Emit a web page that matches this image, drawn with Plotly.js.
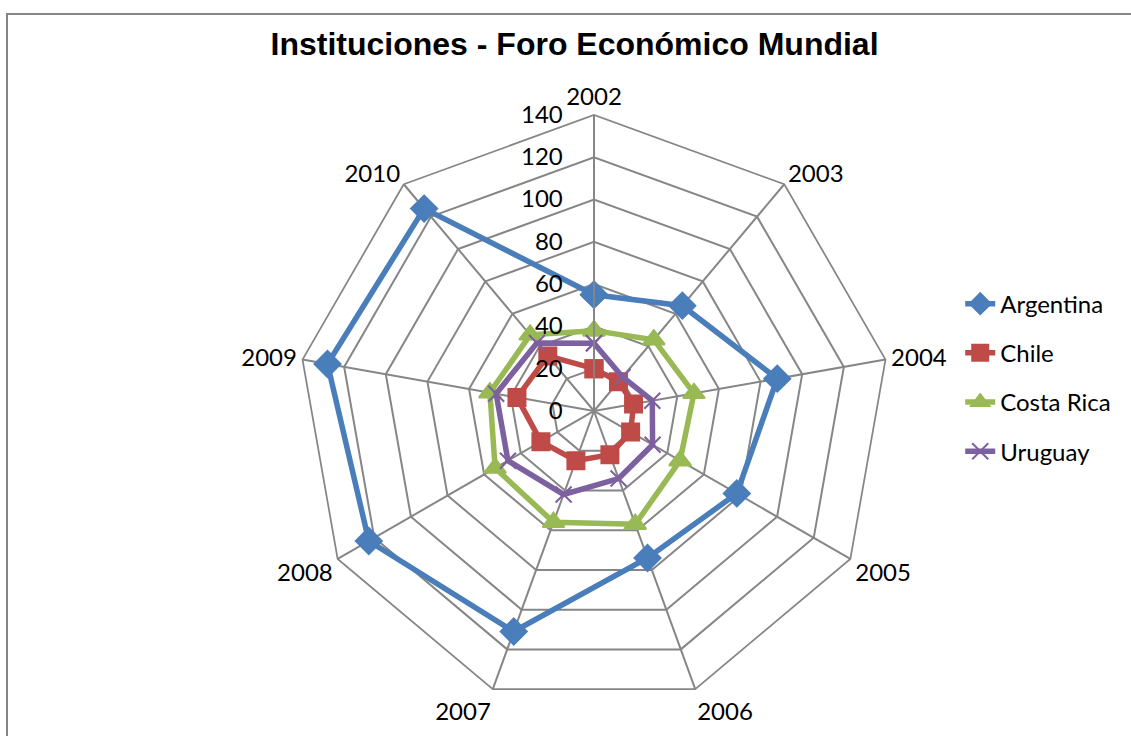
<!DOCTYPE html>
<html>
<head>
<meta charset="utf-8">
<script src="https://cdn.plot.ly/plotly-3.0.1.min.js"></script>
<style>html,body{margin:0;padding:0;background:#fff;}#chart{width:1131px;height:736px;}</style>
</head>
<body>
<div id="chart"></div>
<script>
const years = ["2002","2003","2004","2005","2006","2007","2008","2009","2010"];
const argentina = [55, 65, 88, 78, 74, 111, 123, 128, 125];
const chile = [20, 18, 19, 20, 22, 25, 29, 37, 34];
const costaRica = [38, 44, 48, 47, 57, 56, 54, 50, 47];
const uruguay = [32, 21, 28, 32, 34, 42, 47, 47, 42];
const radialTicks = [0, 20, 40, 60, 80, 100, 120, 140];

function closed(a){ return a.concat([a[0]]); }

const series = [
  {name:"Argentina", r:argentina, color:"#4A7EBB", symbol:"diamond", size:20},
  {name:"Chile", r:chile, color:"#BE4B48", symbol:"square", size:17},
  {name:"Costa Rica", r:costaRica, color:"#98B954", symbol:"triangle-up", size:19},
  {name:"Uruguay", r:uruguay, color:"#7D60A0", symbol:"x-thin-open", size:16}
];

const traces = series.map(s => ({
  type:"scatterpolar",
  mode:"lines+markers",
  name:s.name,
  legendgroup:s.name,
  r:closed(s.r),
  theta:closed(years),
  line:{color:s.color, width:5.5},
  marker:{symbol:s.symbol, size:s.size, color:s.color, line:{color:s.color, width:2}},
  cliponaxis:false
}));

const grid = "#868686";
const layout = {
  width:1131, height:736,
  margin:{l:0,r:0,t:0,b:0},
  paper_bgcolor:"#fff",
  font:{family:"Lato, sans-serif", size:24, color:"#000"},
  title:{text:"<b>Instituciones - Foro Económico Mundial</b>", x:0.508, xanchor:"center", y:0.941, yanchor:"middle",
         font:{family:"Liberation Sans, Arial, sans-serif", size:32, color:"#000"}},
  showlegend:true,
  legend:{x:0.849, xanchor:"left", y:0.487, yanchor:"middle", tracegroupgap:15,
          font:{family:"Lato, sans-serif", size:24, color:"#000"}, bgcolor:"rgba(0,0,0,0)"},
  polar:{
    domain:{x:[0.2635,0.7869], y:[0.0394,0.8438]},
    gridshape:"linear",
    bgcolor:"#fff",
    radialaxis:{range:[0,140], tickvals:radialTicks, angle:90, side:"counterclockwise", tickangle:90,
      showline:true, linecolor:grid, linewidth:1.75, gridcolor:grid, gridwidth:1.75,
      ticks:"outside", ticklen:22, tickcolor:"rgba(0,0,0,0)",
      tickfont:{family:"Lato, sans-serif", size:24, color:"#000"}},
    angularaxis:{type:"category", categoryarray:years, rotation:90, direction:"clockwise",
      showline:true, linecolor:grid, linewidth:1.75, gridcolor:grid, gridwidth:1.75,
      ticks:"", tickfont:{family:"Lato, sans-serif", size:24, color:"#000"}}
  },
  shapes:[{type:"rect", xref:"paper", yref:"paper", x0:7/1131, x1:1.01, y0:-0.01, y1:1-14/736,
           line:{color:grid, width:2}, fillcolor:"rgba(0,0,0,0)"}]
};

Plotly.newPlot("chart", traces, layout, {displayModeBar:false});
</script>
</body>
</html>
